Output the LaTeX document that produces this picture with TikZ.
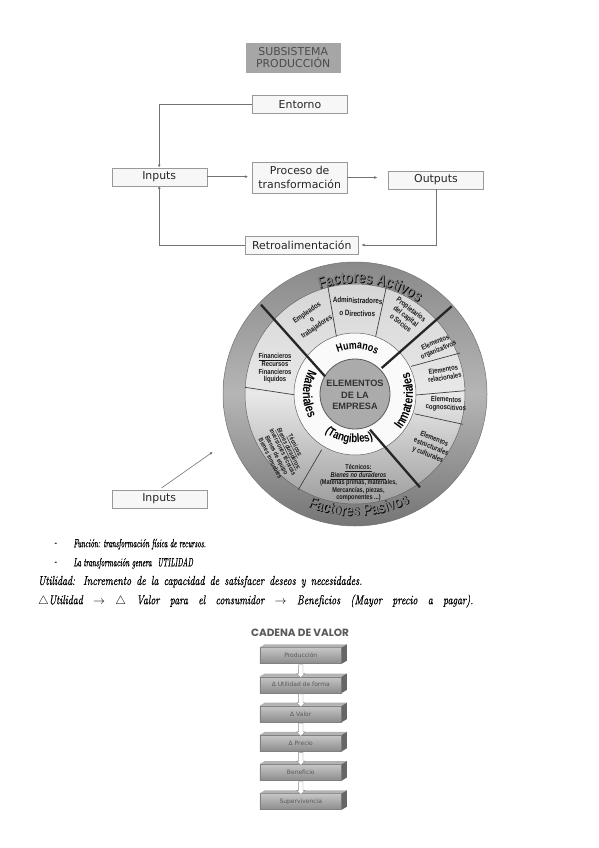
\documentclass[tikz,border=0pt]{standalone}
\usepackage{fontspec}
\usetikzlibrary{arrows.meta,shapes.arrows,calc,decorations.text}
\newfontfamily\flowfont{DejaVu Sans}
\newfontfamily\plainsans{Liberation Sans}
\newfontfamily\wheelfont[FakeStretch=0.8]{Liberation Sans}
\newfontfamily\titlefont{Poppins}
\newfontfamily\notefont[FakeStretch=0.58, FakeBold=0.4]{lmroman10-italic.otf}
\newfontfamily\notewide[FakeStretch=0.75, FakeBold=0.4]{lmroman10-italic.otf}
\newcommand{\wfs}[2]{\wheelfont\bfseries\fontsize{#1}{#2}\selectfont}
\newcommand{\bandfont}{\wfs{16}{16}}

\begin{document}
\begin{tikzpicture}[x=1pt,y=-1pt,
  flowbox/.style={draw=black!40, fill=black!3, minimum width=95pt, minimum height=18pt, inner sep=1pt, text=black!85, align=center, font=\flowfont\fontsize{10.9}{13.3}\selectfont},
  flowline/.style={draw=black!55, line width=0.6pt, -{Latex[length=3pt,width=3pt]}},
  thickdiv/.style={line width=2.3pt, black!85},
  thindiv/.style={line width=0.7pt, black!75},
  ringtext/.style={font=\wfs{7.5}{8.5}, text=black!90, align=center, inner sep=0pt},
  cvbox/.style={draw=black!50, top color=black!22, bottom color=black!45, minimum width=81.7pt, minimum height=16pt, inner sep=0pt, text=black!65, font=\flowfont\fontsize{6}{7}\selectfont},
  cvarrow/.style={single arrow, draw=black!45, fill=white, rotate=-90, minimum height=13pt, inner sep=2pt, single arrow head extend=2pt},
  notes/.style={anchor=west, inner sep=0pt, text=black, font=\notefont\fontsize{12}{14}\selectfont},
  noteswide/.style={notes, font=\notewide\fontsize{13}{15}\selectfont}]
\useasboundingbox (0,0) rectangle (599,848);
\fill[white] (0,0) rectangle (599,848);

\node[flowbox, draw=none, fill=black!35, text=black!70, minimum height=30pt, font=\flowfont\fontsize{10.9}{12.6}\selectfont] (subsis) at (293.2,57.7) {SUBSISTEMA\\PRODUCCIÓN};
\node[flowbox] (entorno) at (300,104.2) {Entorno};
\node[flowbox] (inputs) at (159.2,176.7) {Inputs};
\node[flowbox, minimum height=31.6pt] (proceso) at (299.7,177.5) {Proceso de\\transformación};
\node[flowbox] (outputs) at (436,179.8) {Outputs};
\node[flowbox, minimum width=113pt] (retro) at (301.8,245) {Retroalimentación};
\draw[flowline] (entorno.west) -| (inputs.north);
\draw[flowline, shorten >=4pt] (inputs.east) -- (inputs.east -| proceso.west);
\draw[flowline, shorten >=11pt] (proceso.east) -- (proceso.east -| outputs.west);
\draw[flowline, shorten >=3pt] (outputs.south) |- (retro.east);
\draw[flowline] (retro.west) -| (inputs.south);

\begin{scope}[shift={(355,394)}, y=1pt]
\shadedraw[top color=black!46, bottom color=black!54, middle color=black!29, draw=black!55, line width=0.5pt] (0,0) circle (132);
\shadedraw[top color=black!16, bottom color=black!38, middle color=black!9, draw=black!60, line width=0.5pt] (0,0) circle (110);
\filldraw[fill=black!2, draw=black!60, line width=0.5pt] (0,0) circle (61);
\filldraw[fill=black!33, draw=black!65, line width=0.8pt] (0,0) circle (35);
\end{scope}

\draw[thickdiv] (261,304.7) -- (325,376.3);
\draw[thickdiv] (451.7,306.3) -- (381.7,368);
\draw[thickdiv] (370,429.7) -- (420,487.3);
\draw[thindiv] (327.7,285.3) -- (336.4,336.5);
\draw[thindiv] (386.7,285.3) -- (375.6,336.7);
\draw[thindiv] (245,387.3) -- (294,394.7);
\draw[thindiv] (321.7,449.7) -- (298.3,489.7);
\draw[thindiv] (411,366.4) -- (460,353);
\draw[thindiv] (416,395) -- (465,390.7);
\draw[thindiv] (414.5,413.8) -- (463,424.3);

\begin{scope}[shift={(355,394)}, y=1pt]
\path[decorate, decoration={text along path, text align=center, text color=black, text={|\bandfont|Factores Activos}}, shift={(0.8,-0.8)}] (142:111) arc[start angle=142, end angle=22, radius=111];
\path[decorate, decoration={text along path, text align=center, text color=black!50, text={|\bandfont|Factores Activos}}] (142:111) arc[start angle=142, end angle=22, radius=111];
\path[decorate, decoration={text along path, text align=center, text color=black, text={|\bandfont|Factores Pasivos}}, shift={(0.8,-0.8)}] (212:122) arc[start angle=212, end angle=332, radius=122];
\path[decorate, decoration={text along path, text align=center, text color=black!50, text={|\bandfont|Factores Pasivos}}] (212:122) arc[start angle=212, end angle=332, radius=122];
\path[decorate, decoration={text along path, text align=center, text color=black, text={|\wfs{11}{11}|Humanos}}] (147:45) arc[start angle=147, end angle=27, radius=45];
\path[decorate, decoration={text along path, text align=center, text color=black, text={|\wfs{13}{13}|Materiales}}] (120:52) arc[start angle=120, end angle=240, radius=52];
\path[decorate, decoration={text along path, text align=center, text color=black, text={|\wfs{12}{12}|(Tangibles)}}] (202:49) arc[start angle=202, end angle=322, radius=49];
\path[decorate, decoration={text along path, text align=center, text color=black, text={|\wfs{13}{13}|Inmateriales}}] (-68:58) arc[start angle=-68, end angle=52, radius=58];
\end{scope}

\node[font=\plainsans\bfseries\fontsize{9.2}{11.5}\selectfont, text=black!80, align=center] (elem) at (355,395) {ELEMENTOS\\DE LA\\EMPRESA};
\node[ringtext, rotate=35] (empleados) at (312,320) {Empleados\\o\\trabajadores};
\node[ringtext, rotate=-2, font=\wfs{7.8}{13}] (admin) at (357.5,307) {Administradores\\o Directivos};
\node[ringtext, rotate=-38] (propiet) at (406,316) {Propietarios\\del capital\\o Socios};
\node[ringtext, font=\wfs{7.3}{7.6}] (financ) at (275,368.5) {\underline{Financieros}\\Recursos\\Financieros\\líquidos};
\node[ringtext, rotate=-63, font=\wfs{6.5}{7}] (tecdur) at (283,452) {\underline{Técnicos:}\\\underline{\itshape Bienes duraderos:}\\Inversiones técnicas\\Bienes de equipo\\Bienes inmuebles};
\node[ringtext, font=\wfs{7}{7.5}] (tecnodur) at (358.5,483) {\underline{Técnicos:}\\\underline{\itshape Bienes no duraderos}\\(Materias primas, materiales,\\Mercancías, piezas,\\componentes ...)};
\node[ringtext, rotate=23, font=\wfs{7.3}{8}] (organiz) at (437,346.5) {Elementos\\organizativos};
\node[ringtext, rotate=10, font=\wfs{7.3}{8}] (relac) at (444,373.5) {Elementos\\relacionales};
\node[ringtext, rotate=-3, font=\wfs{7.5}{8}] (cognos) at (446,404) {Elementos\\cognoscitivos};
\node[ringtext, rotate=-22, font=\wfs{7.3}{8.5}] (estruct) at (431,447) {Elementos\\estructurales\\y culturales};

\node[flowbox] (inputsb) at (159.2,498.8) {Inputs};
\coordinate (wheelin) at (212.7,452);
\draw[flowline, shorten <=3pt] (inputsb.north) -- (wheelin);

\node[notes] (dashA) at (54,544.3) {-};
\node[notes] (funcion) at (73.3,544.3) {Función: transformación física de recursos.};
\node[notes] (dashB) at (54,563.3) {-};
\node[notes] (transf) at (73.3,563.3) {La transformación genera\enspace UTILIDAD};
\node[noteswide] (utilidad) at (38,581.7) {\makebox[324pt][s]{Utilidad: Incremento de la capacidad de satisfacer deseos y necesidades.}};
\node[noteswide] (deltas) at (38,601) {\makebox[435pt][s]{$\triangle$Utilidad $\rightarrow$ $\triangle$ Valor para el consumidor $\rightarrow$ Beneficios (Mayor precio a pagar).}};

\node[font=\titlefont\bfseries\fontsize{10.5}{12}\selectfont, text=black!65] (cvtitle) at (300,632.7) {CADENA DE VALOR};
\foreach \i/\txt in {0/Producción, 1/{Δ Utilidad de forma}, 2/{Δ Valor}, 3/{Δ Precio}, 4/Beneficio, 5/Supervivencia}{
  \node[cvbox] (cv\i) at (300.8,655.5+29.2*\i) {\txt};
  \fill[black!30] (cv\i.north west) -- ++(5,-3) -- ($(cv\i.north east)+(5,-3)$) -- (cv\i.north east) -- cycle;
  \fill[black!60] (cv\i.north east) -- ++(5,-3) -- ($(cv\i.south east)+(5,-3)$) -- (cv\i.south east) -- cycle;
}
\foreach \i [count=\j from 1] in {0,...,4}
  \node[cvarrow] (cva\i) at ($(cv\i.south)!0.5!(cv\j.north)$) {};
\end{tikzpicture}
\end{document}
